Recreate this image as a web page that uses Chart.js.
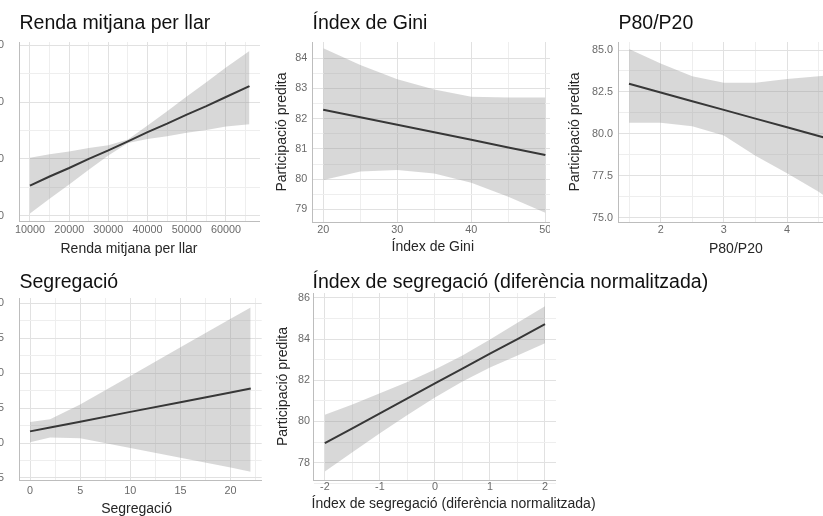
<!DOCTYPE html>
<html><head><meta charset="utf-8">
<script src="https://cdn.jsdelivr.net/npm/chart.js@4.4.1/dist/chart.umd.min.js"></script>
<style>
html,body{margin:0;padding:0;background:#fff;width:823px;height:516px;overflow:hidden;position:relative;font-family:"Liberation Sans",Arial,sans-serif;}
.clip{position:absolute;overflow:hidden;}
.clip canvas{position:absolute;}
.ttl{position:absolute;font-size:19.5px;line-height:19.5px;color:#111;white-space:nowrap;}
.xt{position:absolute;font-size:14px;line-height:14px;color:#262626;white-space:nowrap;}
</style></head><body>
<script>
// ---------- Data ----------
// Panel 1: Renda mitjana per llar
const rendaX     = [10000, 15000, 20000, 25000, 30000, 35000, 40000, 45000, 50000, 55000, 60000, 66000];
const rendaFit   = [75.3, 76.9, 78.4, 80.0, 81.5, 83.1, 84.7, 86.2, 87.8, 89.3, 90.9, 92.8];
const rendaUpper = [80.2, 80.8, 81.3, 81.9, 82.4, 83.4, 85.9, 88.4, 91.0, 93.5, 96.1, 99.0];
const rendaLower = [70.4, 73.0, 75.5, 78.1, 80.6, 82.8, 83.5, 84.0, 84.6, 85.1, 85.7, 86.1];
const rendaXTicks = [10000, 20000, 30000, 40000, 50000, 60000];
const rendaXMinor = [15000, 25000, 35000, 45000, 55000, 65000];
const rendaYTicks = [70, 80, 90, 100];
const rendaYMinor = [75, 85, 95];

// Panel 2: Índex de Gini
const giniX     = [20, 25, 30, 35, 40, 45, 50];
const giniFit   = [82.3, 82.05, 81.8, 81.55, 81.3, 81.05, 80.8];
const giniUpper = [84.33, 83.78, 83.31, 82.97, 82.73, 82.7, 82.7];
const giniLower = [79.97, 80.25, 80.3, 80.19, 79.88, 79.42, 78.89];
const giniXTicks = [20, 30, 40, 50];
const giniXMinor = [25, 35, 45];
const giniYTicks = [79, 80, 81, 82, 83, 84];
const giniYMinor = [79.5, 80.5, 81.5, 82.5, 83.5];

// Panel 3: P80/P20
const p80X     = [1.5, 2, 2.5, 3, 3.5, 4, 4.5, 5];
const p80Fit   = [82.99, 82.47, 81.95, 81.43, 80.91, 80.39, 79.87, 79.35];
const p80Upper = [85.06, 84.19, 83.43, 83.05, 83.05, 83.27, 83.43, 83.6];
const p80Lower = [80.66, 80.66, 80.46, 79.9, 78.7, 77.65, 76.55, 75.2];
const p80XTicks = [2, 3, 4, 5];
const p80XMinor = [1.5, 2.5, 3.5, 4.5];
const p80YTicks = [75, 77.5, 80, 82.5, 85];
const p80YMinor = [76.25, 78.75, 81.25, 83.75];

// Panel 4: Segregació
const segX     = [0, 2, 5, 10, 15, 20, 22];
const segFit   = [81.67, 82.23, 83.06, 84.46, 85.85, 87.24, 87.8];
const segUpper = [83.0, 83.4, 85.5, 89.6, 93.7, 97.8, 99.4];
const segLower = [80.1, 80.8, 80.7, 79.3, 77.9, 76.5, 75.9];
const segXTicks = [0, 5, 10, 15, 20];
const segXMinor = [2.5, 7.5, 12.5, 17.5, 22.5];
const segYTicks = [75, 80, 85, 90, 95, 100];
const segYMinor = [77.5, 82.5, 87.5, 92.5, 97.5];

// Panel 5: Índex de segregació (diferència normalitzada)
const normX     = [-2, -1.5, -1, -0.5, 0, 0.5, 1, 1.5, 2];
const normFit   = [78.95, 79.67, 80.4, 81.12, 81.85, 82.57, 83.3, 84.0, 84.73];
const normUpper = [80.33, 80.83, 81.37, 81.92, 82.53, 83.2, 83.98, 84.8, 85.6];
const normLower = [77.57, 78.51, 79.43, 80.32, 81.17, 81.94, 82.62, 83.2, 83.8];
const normXTicks = [-2, -1, 0, 1, 2];
const normXMinor = [-1.5, -0.5, 0.5, 1.5];
const normYTicks = [78, 80, 82, 84, 86];
const normYMinor = [77, 79, 81, 83, 85];

const yTitle = 'Participació predita';

// ---------- Styling ----------
Chart.defaults.font.family = '"Liberation Sans", Arial, sans-serif';
const BAND = 'rgba(150,150,150,0.37)';
const GRID_MAJOR = '#e1e1e1';
const GRID_MINOR = '#eeeeee';
const TICK_COLOR = '#6a6a6a';
const TICK_SIZE = 10.8;

function zip(xs, ys){ return xs.map((x,i)=>({x:x, y:ys[i]})); }

function scaleCfg(o){
  const majors = new Set(o.major);
  const all = o.major.concat(o.minor).sort((a,b)=>a-b);
  const cfg = {
    type:'linear', min:o.min, max:o.max,
    afterBuildTicks: s => { s.ticks = all.map(v=>({value:v})); },
    grid:{ drawTicks:false, lineWidth:1,
      color: ctx => (ctx.tick && majors.has(ctx.tick.value)) ? GRID_MAJOR : GRID_MINOR },
    border:{ display:true, color:'#bdbdbd', width:1 },
    ticks:{ autoSkip:false, maxRotation:0, padding:o.pad, color:TICK_COLOR,
      font:{size:TICK_SIZE},
      callback: v => majors.has(v) ? o.fmt(v) : '' }
  };
  if (o.axis === 'y') {
    cfg.afterFit = s => { s.width = o.size; };
    cfg.title = { display:true, text:yTitle, color:'#262626', font:{size:14}, padding:{top:3.3, bottom:0} };
  } else {
    cfg.afterFit = s => { s.height = o.size; };
    cfg.title = { display:false };
  }
  return cfg;
}

function addText(cls, text, left, top, extra){
  const d = document.createElement('div');
  d.className = cls; d.textContent = text;
  d.style.left = left + 'px'; d.style.top = top + 'px';
  if (extra) Object.assign(d.style, extra);
  document.body.appendChild(d);
  return d;
}

function panel(p){
  const clip = document.createElement('div');
  clip.className = 'clip';
  Object.assign(clip.style, {left:p.clip[0]+'px', top:p.clip[1]+'px', width:p.clip[2]+'px', height:p.clip[3]+'px'});
  const cv = document.createElement('canvas');
  cv.width = p.cw; cv.height = p.ch;
  Object.assign(cv.style, {left:(p.cx - p.clip[0])+'px', top:(p.cy - p.clip[1])+'px', width:p.cw+'px', height:p.ch+'px'});
  clip.appendChild(cv);
  document.body.appendChild(clip);
  new Chart(cv.getContext('2d'), {
    type:'line',
    data:{ datasets:[
      { data:zip(p.x, p.upper), fill:'+1', backgroundColor:BAND, borderColor:'transparent', borderWidth:0, pointRadius:0, tension:0 },
      { data:zip(p.x, p.lower), fill:false, borderColor:'transparent', borderWidth:0, pointRadius:0, tension:0 },
      { data:zip(p.x, p.fit), fill:false, borderColor:'#000000', borderWidth:2, pointRadius:0, tension:0 }
    ]},
    options:{
      responsive:false, animation:false, devicePixelRatio:1,
      layout:{ padding:p.padding },
      plugins:{ legend:{display:false}, tooltip:{enabled:false}, title:{display:false} },
      scales:{
        x: scaleCfg({axis:'x', min:p.xmin, max:p.xmax, major:p.xt, minor:p.xm, pad:p.xpad, size:p.H, fmt:p.xfmt || (v=>String(v))}),
        y: scaleCfg({axis:'y', min:p.ymin, max:p.ymax, major:p.yt, minor:p.ym, pad:p.ypad, size:p.W, fmt:p.yfmt || (v=>String(v))})
      }
    }
  });
}

// Panel 1
panel({ clip:[0,0,268,258], cx:-40, cy:0, cw:300, ch:258,
  padding:{left:0, right:0, top:42, bottom:1}, W:59, H:35.5, ypad:15, xpad:2,
  x:rendaX, fit:rendaFit, upper:rendaUpper, lower:rendaLower,
  xmin:7200, xmax:68700, ymin:68.98, ymax:100.58,
  xt:rendaXTicks, xm:rendaXMinor, yt:rendaYTicks, ym:rendaYMinor });
// Panel 2
panel({ clip:[268,0,282,258], cx:270, cy:0, cw:287, ch:258,
  padding:{left:0, right:0.6, top:42, bottom:1}, W:42.2, H:35, ypad:5, xpad:2,
  x:giniX, fit:giniFit, upper:giniUpper, lower:giniLower,
  xmin:18.5, xmax:51.5, ymin:78.58, ymax:84.54,
  xt:giniXTicks, xm:giniXMinor, yt:giniYTicks, ym:giniYMinor });
// Panel 3
panel({ clip:[550,0,273,258], cx:563, cy:0, cw:298, ch:258,
  padding:{left:0.3, right:0, top:42, bottom:1}, W:55, H:35, ypad:5.3, xpad:2,
  x:p80X, fit:p80Fit, upper:p80Upper, lower:p80Lower,
  xmin:1.33, xmax:5.17, ymin:74.74, ymax:85.48,
  xt:p80XTicks, xm:p80XMinor, yt:p80YTicks, ym:p80YMinor, yfmt:v=>v.toFixed(1) });
// Panel 4
panel({ clip:[0,258,268,258], cx:-40, cy:260, cw:302, ch:257,
  padding:{left:0, right:0.3, top:38, bottom:0.3}, W:59, H:36.7, ypad:15, xpad:4.6,
  x:segX, fit:segFit, upper:segUpper, lower:segLower,
  xmin:-1.1, xmax:23.1, ymin:74.71, ymax:100.76,
  xt:segXTicks, xm:segXMinor, yt:segYTicks, ym:segYMinor });
// Panel 5
panel({ clip:[268,258,555,258], cx:271, cy:260, cw:285, ch:252,
  padding:{left:0.6, right:0, top:33, bottom:0.3}, W:41.7, H:31.7, ypad:3.3, xpad:0.5,
  x:normX, fit:normFit, upper:normUpper, lower:normLower,
  xmin:-2.21, xmax:2.2, ymin:77.16, ymax:86.24,
  xt:normXTicks, xm:normXMinor, yt:normYTicks, ym:normYMinor });

// Titles
addText('ttl', 'Renda mitjana per llar', 19.5, 12.8);
addText('ttl', 'Índex de Gini', 312.5, 12.8);
addText('ttl', 'P80/P20', 618.5, 12.8);
addText('ttl', 'Segregació', 19.5, 271.8);
addText('ttl', 'Índex de segregació (diferència normalitzada)', 312.5, 271.8);

// X-axis titles (centered)
function xTitle(text, cxp, cyp){
  const d = addText('xt', text, 0, cyp - 7.3);
  d.style.left = (cxp - d.offsetWidth/2) + 'px';
}
xTitle('Renda mitjana per llar', 129, 248.3);
xTitle('Índex de Gini', 433, 246.7);
xTitle('P80/P20', 736, 248.3);
xTitle('Segregació', 136.7, 508.3);
addText('xt', 'Índex de segregació (diferència normalitzada)', 311.5, 503.3 - 7.3);
</script>
</body></html>
